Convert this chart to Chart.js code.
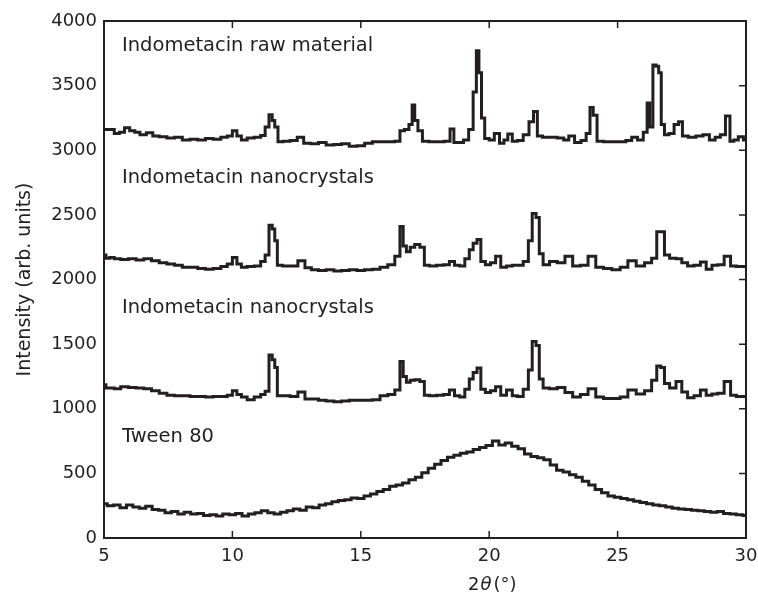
<!doctype html>
<html lang="en">

<head>
    <meta charset="utf-8">
    <title>XRD patterns</title>
    <style>
        * {
            margin: 0;
            padding: 0;
        }

        body {
            background: #fff;
        }
    </style>
</head>

<body>
    <canvas id="myChart" width="758" height="597"></canvas>

    <script src="https://cdn.jsdelivr.net/npm/chart.js"></script>

    <script>
        // 2theta positions and intensities
        const xCrystal = [5.0, 5.15, 5.3, 5.5, 5.8, 6.1, 6.4, 6.7, 7.0, 7.3, 7.6, 7.9, 8.2, 8.5, 8.8, 9.1, 9.4, 9.7, 9.9,
            10.1, 10.25, 10.45, 10.7, 11.0, 11.2, 11.35, 11.5, 11.6, 11.7, 11.8, 12.1, 12.4, 12.7, 12.95, 13.2, 13.5,
            13.8, 14.1, 14.4, 14.7, 15.0, 15.3, 15.6, 15.9, 16.2, 16.45, 16.6, 16.7, 16.85, 17.0, 17.2, 17.4, 17.55,
            17.8, 18.1, 18.35, 18.55, 18.75, 18.95, 19.15, 19.3, 19.45, 19.6, 19.75, 19.95, 20.15, 20.35, 20.55, 20.8,
            21.0, 21.2, 21.45, 21.6, 21.75, 21.9, 22.0, 22.2, 22.5, 22.8, 23.1, 23.4, 23.7, 24.0, 24.3, 24.6, 24.95,
            25.25, 25.55, 25.9, 26.2, 26.45, 26.6, 26.75, 26.9, 27.15, 27.4, 27.6, 27.85, 28.1, 28.35, 28.55, 28.8,
            29.0, 29.3, 29.5, 29.75, 30.0];

        const nano1 = [2190, 2165, 2170, 2160, 2155, 2160, 2150, 2160, 2145, 2130, 2120, 2110, 2095, 2095, 2085, 2080,
            2085, 2100, 2120, 2170, 2120, 2095, 2100, 2105, 2140, 2190, 2420, 2390, 2300, 2110, 2105, 2105, 2145, 2090,
            2075, 2070, 2075, 2065, 2070, 2075, 2070, 2075, 2080, 2095, 2115, 2180, 2410, 2260, 2215, 2250, 2270, 2250,
            2110, 2105, 2110, 2115, 2140, 2110, 2105, 2160, 2230, 2280, 2310, 2140, 2115, 2130, 2180, 2095, 2105, 2110,
            2110, 2140, 2300, 2510, 2480, 2200, 2115, 2140, 2130, 2180, 2105, 2110, 2180, 2095, 2085, 2075, 2095, 2145,
            2105, 2130, 2165, 2370, 2370, 2190, 2165, 2160, 2130, 2105, 2110, 2135, 2080, 2110, 2115, 2180, 2105, 2100,
            2100];

        const nano2 = [1185, 1160, 1160, 1155, 1170, 1165, 1160, 1155, 1140, 1120, 1105, 1100, 1100, 1095, 1095, 1090,
            1095, 1095, 1105, 1140, 1110, 1090, 1070, 1090, 1110, 1135, 1415, 1380, 1320, 1100, 1100, 1095, 1130, 1075,
            1075, 1065, 1060, 1055, 1060, 1065, 1065, 1065, 1070, 1100, 1110, 1145, 1365, 1250, 1205, 1220, 1225, 1210,
            1105, 1100, 1105, 1110, 1145, 1100, 1090, 1150, 1230, 1280, 1315, 1150, 1125, 1140, 1170, 1105, 1145, 1100,
            1095, 1150, 1300, 1520, 1490, 1230, 1160, 1155, 1165, 1125, 1090, 1110, 1155, 1090, 1080, 1080, 1090, 1145,
            1115, 1140, 1220, 1330, 1320, 1195, 1160, 1210, 1130, 1085, 1100, 1145, 1105, 1115, 1120, 1210, 1105, 1095,
            1095];

        const xRaw = [5.0, 5.3, 5.5, 5.7, 5.9, 6.1, 6.3, 6.5, 6.8, 7.0, 7.3, 7.6, 7.9, 8.2, 8.5, 8.8, 9.1, 9.4, 9.7, 9.9,
            10.1, 10.25, 10.45, 10.7, 11.0, 11.2, 11.35, 11.5, 11.6, 11.7, 11.85, 12.1, 12.4, 12.65, 12.9, 13.2, 13.5,
            13.8, 14.1, 14.4, 14.7, 15.0, 15.3, 15.6, 15.9, 16.2, 16.45, 16.6, 16.8, 16.95, 17.05, 17.15, 17.3, 17.5,
            17.8, 18.1, 18.4, 18.55, 18.7, 18.9, 19.1, 19.3, 19.45, 19.55, 19.65, 19.75, 19.9, 20.1, 20.3, 20.5, 20.65,
            20.8, 21.0, 21.2, 21.45, 21.65, 21.8, 21.95, 22.2, 22.5, 22.8, 23.0, 23.2, 23.45, 23.7, 23.85, 24.0, 24.1,
            24.3, 24.6, 24.9, 25.2, 25.45, 25.65, 25.9, 26.1, 26.2, 26.3, 26.45, 26.55, 26.65, 26.75, 26.9, 27.1, 27.3,
            27.45, 27.6, 27.9, 28.2, 28.45, 28.7, 28.9, 29.1, 29.3, 29.45, 29.6, 29.8, 30.0];

        const raw = [3160, 3160, 3130, 3140, 3175, 3150, 3140, 3120, 3135, 3110, 3105, 3095, 3100, 3080, 3085, 3080, 3090,
            3085, 3100, 3110, 3150, 3110, 3080, 3095, 3100, 3115, 3180, 3275, 3230, 3180, 3065, 3070, 3075, 3100, 3055,
            3050, 3060, 3040, 3045, 3050, 3030, 3035, 3055, 3065, 3065, 3065, 3070, 3150, 3160, 3200, 3350, 3230, 3150,
            3070, 3065, 3065, 3070, 3165, 3060, 3060, 3080, 3160, 3450, 3770, 3600, 3250, 3090, 3080, 3130, 3055, 3080,
            3125, 3070, 3075, 3120, 3220, 3300, 3110, 3100, 3100, 3095, 3080, 3110, 3060, 3075, 3130, 3330, 3270, 3070,
            3065, 3065, 3065, 3075, 3100, 3080, 3140, 3365, 3180, 3660, 3650, 3600, 3200, 3120, 3130, 3200, 3220, 3110,
            3100, 3110, 3120, 3080, 3100, 3120, 3265, 3070, 3080, 3105, 3080];

        const xTween = [5.0, 5.25, 5.5, 5.75, 6.0, 6.25, 6.5, 6.75, 7.0, 7.25, 7.5, 7.75, 8.0, 8.25, 8.5, 8.75, 9.0, 9.25,
            9.5, 9.75, 10.0, 10.25, 10.5, 10.75, 11.0, 11.25, 11.5, 11.75, 12.0, 12.25, 12.5, 12.75, 13.0, 13.25, 13.5,
            13.75, 14.0, 14.25, 14.5, 14.75, 15.0, 15.25, 15.5, 15.75, 16.0, 16.25, 16.5, 16.75, 17.0, 17.25, 17.5,
            17.75, 18.0, 18.25, 18.5, 18.75, 19.0, 19.25, 19.5, 19.75, 20.0, 20.25, 20.5, 20.75, 21.0, 21.25, 21.5,
            21.75, 22.0, 22.25, 22.5, 22.75, 23.0, 23.25, 23.5, 23.75, 24.0, 24.25, 24.5, 24.75, 25.0, 25.25, 25.5,
            25.75, 26.0, 26.25, 26.5, 26.75, 27.0, 27.25, 27.5, 27.75, 28.0, 28.25, 28.5, 28.75, 29.0, 29.25, 29.5,
            29.75, 30.0];

        const tween = [265, 250, 255, 235, 255, 240, 230, 245, 220, 215, 195, 205, 185, 200, 185, 190, 175, 180, 170, 185,
            180, 190, 170, 185, 195, 210, 195, 185, 200, 210, 225, 215, 240, 235, 255, 265, 280, 290, 295, 310, 305,
            325, 340, 360, 375, 400, 410, 425, 450, 470, 505, 540, 570, 600, 625, 640, 655, 665, 685, 700, 715, 750,
            720, 735, 710, 690, 650, 630, 620, 605, 565, 525, 510, 490, 470, 440, 410, 375, 350, 325, 315, 305, 295,
            285, 275, 265, 255, 250, 240, 230, 225, 220, 215, 210, 205, 200, 205, 190, 185, 180, 175];

        const seriesNames = ['Indometacin raw material', 'Indometacin nanocrystals', 'Indometacin nanocrystals', 'Tween 80'];
        const xTicks = [5, 10, 15, 20, 25, 30];
        const yTicks = [0, 500, 1000, 1500, 2000, 2500, 3000, 3500, 4000];

        const ink = '#231f20';
        const font = '"DejaVu Sans", "Noto Sans", sans-serif';

        function pairs(xs, ys) {
            return xs.map((x, i) => ({ x: x, y: ys[i] }));
        }

        function line(label, xs, ys) {
            return {
                label: label,
                data: pairs(xs, ys),
                borderColor: ink,
                borderWidth: 3,
                stepped: 'middle',
                pointRadius: 0,
                fill: false
            };
        }

        // where each name sits (x in degrees, y in intensity)
        const labelSpots = [[5.7, 3805], [5.7, 2785], [5.7, 1780], [5.7, 780]];

        const decor = {
            id: 'decor',
            afterDraw(chart) {
                const ctx = chart.ctx;
                const a = chart.chartArea;
                const sx = chart.scales.x;
                const sy = chart.scales.y;
                ctx.save();
                ctx.strokeStyle = ink;
                ctx.lineWidth = 2;
                ctx.strokeRect(a.left, a.top, a.right - a.left, a.bottom - a.top);

                // inward ticks on bottom, top and right
                ctx.lineWidth = 1.5;
                ctx.beginPath();
                xTicks.slice(1, -1).forEach(v => {
                    const px = sx.getPixelForValue(v);
                    ctx.moveTo(px, a.bottom);
                    ctx.lineTo(px, a.bottom - 7);
                    ctx.moveTo(px, a.top);
                    ctx.lineTo(px, a.top + 7);
                });
                yTicks.slice(1, -1).forEach(v => {
                    const py = sy.getPixelForValue(v);
                    ctx.moveTo(a.right, py);
                    ctx.lineTo(a.right - 7, py);
                });
                ctx.stroke();

                ctx.fillStyle = ink;
                ctx.font = '19.5px ' + font;
                ctx.textBaseline = 'middle';
                ctx.textAlign = 'left';
                seriesNames.forEach((name, i) => {
                    ctx.fillText(name, sx.getPixelForValue(labelSpots[i][0]), sy.getPixelForValue(labelSpots[i][1]));
                });

                // x title with italic theta
                ctx.font = '18px ' + font;
                let tx = 468;
                const ty = 585;
                ctx.fillText('2', tx, ty);
                tx += ctx.measureText('2').width + 1;
                ctx.font = 'italic 18px ' + font;
                ctx.fillText('θ', tx, ty);
                tx += ctx.measureText('θ').width + 2;
                ctx.font = '18px ' + font;
                ctx.fillText('(°)', tx, ty);

                // y title
                ctx.font = '19px ' + font;
                ctx.translate(25, (a.top + a.bottom) / 2);
                ctx.rotate(-Math.PI / 2);
                ctx.textAlign = 'center';
                ctx.fillText('Intensity (arb. units)', 0, 0);
                ctx.restore();
            }
        };

        const config = {
            type: 'line',
            data: {
                datasets: [
                    line(seriesNames[0], xRaw, raw),
                    line(seriesNames[1], xCrystal, nano1),
                    line(seriesNames[2], xCrystal, nano2),
                    line(seriesNames[3], xTween, tween)
                ]
            },
            options: {
                responsive: false,
                animation: false,
                layout: {
                    padding: { top: 21, right: 12, left: 0, bottom: 0 }
                },
                plugins: {
                    legend: { display: false },
                    tooltip: { enabled: false }
                },
                scales: {
                    x: {
                        type: 'linear',
                        min: 5,
                        max: 30,
                        afterFit: s => {
                            s.height = 59;
                            s.paddingLeft = 0;
                            s.paddingRight = 0;
                        },
                        afterBuildTicks: s => { s.ticks = xTicks.map(v => ({ value: v })); },
                        grid: { display: false, drawTicks: false },
                        border: { display: false },
                        ticks: {
                            color: ink,
                            padding: 8,
                            font: { size: 18, family: font }
                        }
                    },
                    y: {
                        min: 0,
                        max: 4000,
                        afterFit: s => {
                            s.width = 104;
                            s.paddingTop = 0;
                            s.paddingBottom = 0;
                        },
                        afterBuildTicks: s => { s.ticks = yTicks.map(v => ({ value: v })); },
                        grid: { display: false, drawTicks: false },
                        border: { display: false },
                        ticks: {
                            color: ink,
                            padding: 7,
                            font: { size: 18, family: font },
                            callback: v => String(v)
                        }
                    }
                }
            },
            plugins: [decor]
        };

        const myChart = new Chart(document.getElementById('myChart'), config);
    </script>

</body>

</html>
